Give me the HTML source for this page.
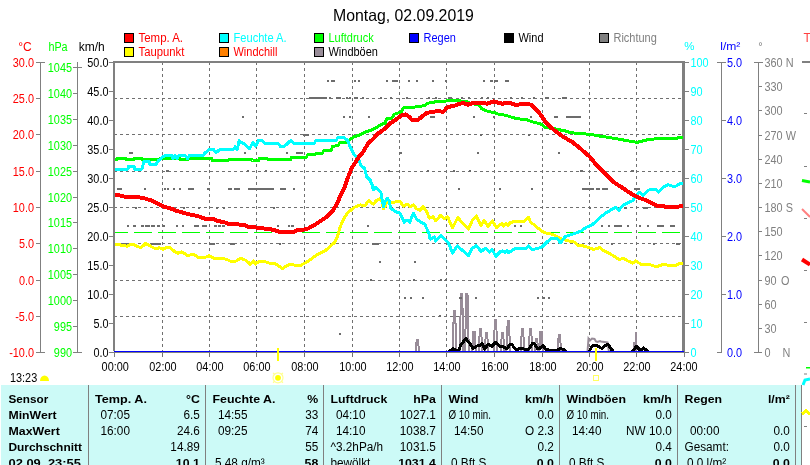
<!DOCTYPE html>
<html><head><meta charset="utf-8"><title>Wetter 02.09.2019</title>
<style>
html,body{margin:0;padding:0;background:#fff;width:810px;height:465px;overflow:hidden}
svg{display:block;font-family:"Liberation Sans",Arial,sans-serif}
</style></head><body>
<svg width="810" height="465" viewBox="0 0 810 465">
<defs>
<clipPath id="plot"><rect x="115" y="63" width="568" height="289"/></clipPath>
<clipPath id="plot2"><rect x="115" y="63" width="568" height="288"/></clipPath>
</defs>
<rect width="810" height="465" fill="#fff"/>
<text x="403.4" y="21" fill="#000" font-size="16.5" text-anchor="middle" textLength="140.91" lengthAdjust="spacingAndGlyphs">Montag, 02.09.2019</text>
<rect x="124" y="33" width="10" height="10" fill="#000"/>
<rect x="125" y="34" width="8" height="8" fill="#ff0000"/>
<text x="138.5" y="42" fill="#ff0000" font-size="12" textLength="44.54" lengthAdjust="spacingAndGlyphs">Temp. A.</text>
<rect x="124" y="47" width="10" height="10" fill="#000"/>
<rect x="125" y="48" width="8" height="8" fill="#ffff00"/>
<text x="138.5" y="56" fill="#ff0000" font-size="12" textLength="45.78" lengthAdjust="spacingAndGlyphs">Taupunkt</text>
<rect x="219" y="33" width="10" height="10" fill="#000"/>
<rect x="220" y="34" width="8" height="8" fill="#00ffff"/>
<text x="233.5" y="42" fill="#00ffff" font-size="12" textLength="53.1" lengthAdjust="spacingAndGlyphs">Feuchte A.</text>
<rect x="219" y="47" width="10" height="10" fill="#000"/>
<rect x="220" y="48" width="8" height="8" fill="#ff8000"/>
<text x="233.5" y="56" fill="#ff0000" font-size="12" textLength="43.93" lengthAdjust="spacingAndGlyphs">Windchill</text>
<rect x="314" y="33" width="10" height="10" fill="#000"/>
<rect x="315" y="34" width="8" height="8" fill="#00ff00"/>
<text x="328.5" y="42" fill="#00ff00" font-size="12" textLength="45.16" lengthAdjust="spacingAndGlyphs">Luftdruck</text>
<rect x="314" y="47" width="10" height="10" fill="#000"/>
<rect x="315" y="48" width="8" height="8" fill="#988c98"/>
<text x="328.5" y="56" fill="#000000" font-size="12" textLength="49.44" lengthAdjust="spacingAndGlyphs">Windböen</text>
<rect x="409" y="33" width="10" height="10" fill="#000"/>
<rect x="410" y="34" width="8" height="8" fill="#0000ff"/>
<text x="423.5" y="42" fill="#0000ff" font-size="12" textLength="32.36" lengthAdjust="spacingAndGlyphs">Regen</text>
<rect x="504" y="33" width="10" height="10" fill="#000"/>
<rect x="505" y="34" width="8" height="8" fill="#000000"/>
<text x="518.5" y="42" fill="#000000" font-size="12" textLength="25.02" lengthAdjust="spacingAndGlyphs">Wind</text>
<rect x="599" y="33" width="10" height="10" fill="#000"/>
<rect x="600" y="34" width="8" height="8" fill="#808080"/>
<text x="613.5" y="42" fill="#808080" font-size="12" textLength="43.34" lengthAdjust="spacingAndGlyphs">Richtung</text>
<rect x="40" y="62" width="1" height="291" fill="#808080"/>
<text x="25" y="51" fill="#ff0000" font-size="12" text-anchor="middle">°C</text>
<rect x="36" y="62" width="4" height="1" fill="#808080"/>
<text x="34" y="66.5" fill="#ff0000" font-size="12.5" text-anchor="end" textLength="21.17" lengthAdjust="spacingAndGlyphs">30.0</text>
<rect x="36" y="98" width="4" height="1" fill="#808080"/>
<text x="34" y="102.5" fill="#ff0000" font-size="12.5" text-anchor="end" textLength="21.17" lengthAdjust="spacingAndGlyphs">25.0</text>
<rect x="36" y="134" width="4" height="1" fill="#808080"/>
<text x="34" y="138.5" fill="#ff0000" font-size="12.5" text-anchor="end" textLength="21.17" lengthAdjust="spacingAndGlyphs">20.0</text>
<rect x="36" y="171" width="4" height="1" fill="#808080"/>
<text x="34" y="175.5" fill="#ff0000" font-size="12.5" text-anchor="end" textLength="21.17" lengthAdjust="spacingAndGlyphs">15.0</text>
<rect x="36" y="207" width="4" height="1" fill="#808080"/>
<text x="34" y="211.5" fill="#ff0000" font-size="12.5" text-anchor="end" textLength="21.17" lengthAdjust="spacingAndGlyphs">10.0</text>
<rect x="36" y="243" width="4" height="1" fill="#808080"/>
<text x="34" y="247.5" fill="#ff0000" font-size="12.5" text-anchor="end" textLength="15.12" lengthAdjust="spacingAndGlyphs">5.0</text>
<rect x="36" y="280" width="4" height="1" fill="#808080"/>
<text x="34" y="284.5" fill="#ff0000" font-size="12.5" text-anchor="end" textLength="15.12" lengthAdjust="spacingAndGlyphs">0.0</text>
<rect x="36" y="316" width="4" height="1" fill="#808080"/>
<text x="34" y="320.5" fill="#ff0000" font-size="12.5" text-anchor="end" textLength="18.74" lengthAdjust="spacingAndGlyphs">-5.0</text>
<rect x="36" y="352" width="4" height="1" fill="#808080"/>
<text x="34" y="356.5" fill="#ff0000" font-size="12.5" text-anchor="end" textLength="24.79" lengthAdjust="spacingAndGlyphs">-10.0</text>
<rect x="36" y="62" width="9" height="1" fill="#808080"/>
<rect x="36" y="352" width="9" height="1" fill="#808080"/>
<rect x="77" y="62" width="1" height="291" fill="#808080"/>
<text x="58" y="51" fill="#00ff00" font-size="12" text-anchor="middle" textLength="19.22" lengthAdjust="spacingAndGlyphs">hPa</text>
<rect x="73" y="67" width="4" height="1" fill="#808080"/>
<text x="72" y="71.5" fill="#00ff00" font-size="12.5" text-anchor="end" textLength="24.19" lengthAdjust="spacingAndGlyphs">1045</text>
<rect x="73" y="93" width="4" height="1" fill="#808080"/>
<text x="72" y="97.5" fill="#00ff00" font-size="12.5" text-anchor="end" textLength="24.19" lengthAdjust="spacingAndGlyphs">1040</text>
<rect x="73" y="119" width="4" height="1" fill="#808080"/>
<text x="72" y="123.5" fill="#00ff00" font-size="12.5" text-anchor="end" textLength="24.19" lengthAdjust="spacingAndGlyphs">1035</text>
<rect x="73" y="145" width="4" height="1" fill="#808080"/>
<text x="72" y="149.5" fill="#00ff00" font-size="12.5" text-anchor="end" textLength="24.19" lengthAdjust="spacingAndGlyphs">1030</text>
<rect x="73" y="171" width="4" height="1" fill="#808080"/>
<text x="72" y="175.5" fill="#00ff00" font-size="12.5" text-anchor="end" textLength="24.19" lengthAdjust="spacingAndGlyphs">1025</text>
<rect x="73" y="197" width="4" height="1" fill="#808080"/>
<text x="72" y="201.5" fill="#00ff00" font-size="12.5" text-anchor="end" textLength="24.19" lengthAdjust="spacingAndGlyphs">1020</text>
<rect x="73" y="222" width="4" height="1" fill="#808080"/>
<text x="72" y="226.5" fill="#00ff00" font-size="12.5" text-anchor="end" textLength="24.19" lengthAdjust="spacingAndGlyphs">1015</text>
<rect x="73" y="248" width="4" height="1" fill="#808080"/>
<text x="72" y="252.5" fill="#00ff00" font-size="12.5" text-anchor="end" textLength="24.19" lengthAdjust="spacingAndGlyphs">1010</text>
<rect x="73" y="274" width="4" height="1" fill="#808080"/>
<text x="72" y="278.5" fill="#00ff00" font-size="12.5" text-anchor="end" textLength="24.19" lengthAdjust="spacingAndGlyphs">1005</text>
<rect x="73" y="300" width="4" height="1" fill="#808080"/>
<text x="72" y="304.5" fill="#00ff00" font-size="12.5" text-anchor="end" textLength="24.19" lengthAdjust="spacingAndGlyphs">1000</text>
<rect x="73" y="326" width="4" height="1" fill="#808080"/>
<text x="72" y="330.5" fill="#00ff00" font-size="12.5" text-anchor="end" textLength="18.14" lengthAdjust="spacingAndGlyphs">995</text>
<rect x="73" y="352" width="4" height="1" fill="#808080"/>
<text x="72" y="356.5" fill="#00ff00" font-size="12.5" text-anchor="end" textLength="18.14" lengthAdjust="spacingAndGlyphs">990</text>
<rect x="73" y="67" width="9" height="1" fill="#808080"/>
<rect x="73" y="352" width="9" height="1" fill="#808080"/>
<text x="91.7" y="51" fill="#000" font-size="12" text-anchor="middle">km/h</text>
<rect x="109" y="62" width="4" height="1" fill="#808080"/>
<text x="108.5" y="66.5" fill="#000" font-size="12.5" text-anchor="end" textLength="21.17" lengthAdjust="spacingAndGlyphs">50.0</text>
<rect x="109" y="91" width="4" height="1" fill="#808080"/>
<text x="108.5" y="95.5" fill="#000" font-size="12.5" text-anchor="end" textLength="21.17" lengthAdjust="spacingAndGlyphs">45.0</text>
<rect x="109" y="120" width="4" height="1" fill="#808080"/>
<text x="108.5" y="124.5" fill="#000" font-size="12.5" text-anchor="end" textLength="21.17" lengthAdjust="spacingAndGlyphs">40.0</text>
<rect x="109" y="149" width="4" height="1" fill="#808080"/>
<text x="108.5" y="153.5" fill="#000" font-size="12.5" text-anchor="end" textLength="21.17" lengthAdjust="spacingAndGlyphs">35.0</text>
<rect x="109" y="178" width="4" height="1" fill="#808080"/>
<text x="108.5" y="182.5" fill="#000" font-size="12.5" text-anchor="end" textLength="21.17" lengthAdjust="spacingAndGlyphs">30.0</text>
<rect x="109" y="207" width="4" height="1" fill="#808080"/>
<text x="108.5" y="211.5" fill="#000" font-size="12.5" text-anchor="end" textLength="21.17" lengthAdjust="spacingAndGlyphs">25.0</text>
<rect x="109" y="236" width="4" height="1" fill="#808080"/>
<text x="108.5" y="240.5" fill="#000" font-size="12.5" text-anchor="end" textLength="21.17" lengthAdjust="spacingAndGlyphs">20.0</text>
<rect x="109" y="265" width="4" height="1" fill="#808080"/>
<text x="108.5" y="269.5" fill="#000" font-size="12.5" text-anchor="end" textLength="21.17" lengthAdjust="spacingAndGlyphs">15.0</text>
<rect x="109" y="294" width="4" height="1" fill="#808080"/>
<text x="108.5" y="298.5" fill="#000" font-size="12.5" text-anchor="end" textLength="21.17" lengthAdjust="spacingAndGlyphs">10.0</text>
<rect x="109" y="323" width="4" height="1" fill="#808080"/>
<text x="108.5" y="327.5" fill="#000" font-size="12.5" text-anchor="end" textLength="15.12" lengthAdjust="spacingAndGlyphs">5.0</text>
<rect x="109" y="352" width="4" height="1" fill="#808080"/>
<text x="108.5" y="356.5" fill="#000" font-size="12.5" text-anchor="end" textLength="15.12" lengthAdjust="spacingAndGlyphs">0.0</text>
<rect x="162" y="352" width="1" height="5" fill="#707070"/>
<line x1="162.5" y1="62" x2="162.5" y2="352" stroke="#707070" stroke-width="1" stroke-dasharray="3,3" shape-rendering="crispEdges"/>
<rect x="209" y="352" width="1" height="5" fill="#707070"/>
<line x1="209.5" y1="62" x2="209.5" y2="352" stroke="#707070" stroke-width="1" stroke-dasharray="3,3" shape-rendering="crispEdges"/>
<rect x="256" y="352" width="1" height="5" fill="#707070"/>
<line x1="256.5" y1="62" x2="256.5" y2="352" stroke="#707070" stroke-width="1" stroke-dasharray="3,3" shape-rendering="crispEdges"/>
<rect x="304" y="352" width="1" height="5" fill="#707070"/>
<line x1="304.5" y1="62" x2="304.5" y2="352" stroke="#707070" stroke-width="1" stroke-dasharray="3,3" shape-rendering="crispEdges"/>
<rect x="352" y="352" width="1" height="5" fill="#707070"/>
<line x1="352.5" y1="62" x2="352.5" y2="352" stroke="#707070" stroke-width="1" stroke-dasharray="3,3" shape-rendering="crispEdges"/>
<rect x="399" y="352" width="1" height="5" fill="#707070"/>
<line x1="399.5" y1="62" x2="399.5" y2="352" stroke="#707070" stroke-width="1" stroke-dasharray="3,3" shape-rendering="crispEdges"/>
<rect x="446" y="352" width="1" height="5" fill="#707070"/>
<line x1="446.5" y1="62" x2="446.5" y2="352" stroke="#707070" stroke-width="1" stroke-dasharray="3,3" shape-rendering="crispEdges"/>
<rect x="494" y="352" width="1" height="5" fill="#707070"/>
<line x1="494.5" y1="62" x2="494.5" y2="352" stroke="#707070" stroke-width="1" stroke-dasharray="3,3" shape-rendering="crispEdges"/>
<rect x="542" y="352" width="1" height="5" fill="#707070"/>
<line x1="542.5" y1="62" x2="542.5" y2="352" stroke="#707070" stroke-width="1" stroke-dasharray="3,3" shape-rendering="crispEdges"/>
<rect x="589" y="352" width="1" height="5" fill="#707070"/>
<line x1="589.5" y1="62" x2="589.5" y2="352" stroke="#707070" stroke-width="1" stroke-dasharray="3,3" shape-rendering="crispEdges"/>
<rect x="636" y="352" width="1" height="5" fill="#707070"/>
<line x1="636.5" y1="62" x2="636.5" y2="352" stroke="#707070" stroke-width="1" stroke-dasharray="3,3" shape-rendering="crispEdges"/>
<line x1="114" y1="98.5" x2="682" y2="98.5" stroke="#707070" stroke-width="1" stroke-dasharray="3,3" shape-rendering="crispEdges"/>
<line x1="114" y1="134.5" x2="682" y2="134.5" stroke="#707070" stroke-width="1" stroke-dasharray="3,3" shape-rendering="crispEdges"/>
<line x1="114" y1="171.5" x2="682" y2="171.5" stroke="#707070" stroke-width="1" stroke-dasharray="3,3" shape-rendering="crispEdges"/>
<line x1="114" y1="207.5" x2="682" y2="207.5" stroke="#707070" stroke-width="1" stroke-dasharray="3,3" shape-rendering="crispEdges"/>
<line x1="114" y1="243.5" x2="682" y2="243.5" stroke="#707070" stroke-width="1" stroke-dasharray="3,3" shape-rendering="crispEdges"/>
<line x1="114" y1="280.5" x2="682" y2="280.5" stroke="#707070" stroke-width="1" stroke-dasharray="3,3" shape-rendering="crispEdges"/>
<line x1="114" y1="316.5" x2="682" y2="316.5" stroke="#707070" stroke-width="1" stroke-dasharray="3,3" shape-rendering="crispEdges"/>
<line x1="110" y1="232.5" x2="682" y2="232.5" stroke="#00ff00" stroke-width="1" stroke-dasharray="18,6" shape-rendering="crispEdges" clip-path="url(#plot)"/>
<rect x="113" y="61" width="572" height="2" fill="#808080"/>
<rect x="113" y="62" width="2" height="289" fill="#808080"/>
<rect x="114" y="351" width="1" height="6" fill="#808080"/>
<rect x="682" y="61" width="3" height="291" fill="#808080"/>
<rect x="113" y="352" width="572" height="1" fill="#808080"/>
<rect x="684" y="352" width="1" height="5" fill="#808080"/>
<rect x="685" y="352" width="4" height="1" fill="#808080"/>
<rect x="110" y="62" width="3" height="1" fill="#808080"/>
<rect x="685" y="62" width="4" height="1" fill="#808080"/>
<rect x="685" y="91" width="4" height="1" fill="#808080"/>
<rect x="685" y="120" width="4" height="1" fill="#808080"/>
<rect x="685" y="149" width="4" height="1" fill="#808080"/>
<rect x="685" y="178" width="4" height="1" fill="#808080"/>
<rect x="685" y="207" width="4" height="1" fill="#808080"/>
<rect x="685" y="236" width="4" height="1" fill="#808080"/>
<rect x="685" y="265" width="4" height="1" fill="#808080"/>
<rect x="685" y="294" width="4" height="1" fill="#808080"/>
<rect x="685" y="323" width="4" height="1" fill="#808080"/>
<rect x="685" y="352" width="4" height="1" fill="#808080"/>
<text x="689.3" y="50" fill="#00ffff" font-size="11.5" text-anchor="middle">%</text>
<text x="690.5" y="66.5" fill="#00ffff" font-size="12.5" textLength="18.14" lengthAdjust="spacingAndGlyphs">100</text>
<text x="690.5" y="95.5" fill="#00ffff" font-size="12.5" textLength="12.1" lengthAdjust="spacingAndGlyphs">90</text>
<text x="690.5" y="124.5" fill="#00ffff" font-size="12.5" textLength="12.1" lengthAdjust="spacingAndGlyphs">80</text>
<text x="690.5" y="153.5" fill="#00ffff" font-size="12.5" textLength="12.1" lengthAdjust="spacingAndGlyphs">70</text>
<text x="690.5" y="182.5" fill="#00ffff" font-size="12.5" textLength="12.1" lengthAdjust="spacingAndGlyphs">60</text>
<text x="690.5" y="211.5" fill="#00ffff" font-size="12.5" textLength="12.1" lengthAdjust="spacingAndGlyphs">50</text>
<text x="690.5" y="240.5" fill="#00ffff" font-size="12.5" textLength="12.1" lengthAdjust="spacingAndGlyphs">40</text>
<text x="690.5" y="269.5" fill="#00ffff" font-size="12.5" textLength="12.1" lengthAdjust="spacingAndGlyphs">30</text>
<text x="690.5" y="298.5" fill="#00ffff" font-size="12.5" textLength="12.1" lengthAdjust="spacingAndGlyphs">20</text>
<text x="690.5" y="327.5" fill="#00ffff" font-size="12.5" textLength="12.1" lengthAdjust="spacingAndGlyphs">10</text>
<text x="690.5" y="356.5" fill="#00ffff" font-size="12.5" textLength="6.05" lengthAdjust="spacingAndGlyphs">0</text>
<rect x="721" y="62" width="1" height="291" fill="#808080"/>
<rect x="717" y="62" width="9" height="1" fill="#808080"/>
<text x="730.3" y="50" fill="#0000ff" font-size="11" text-anchor="middle" textLength="20.16" lengthAdjust="spacingAndGlyphs">l/m²</text>
<text x="727" y="66.5" fill="#0000ff" font-size="12.5" textLength="15.12" lengthAdjust="spacingAndGlyphs">5.0</text>
<rect x="722" y="120" width="4" height="1" fill="#808080"/>
<text x="727" y="124.5" fill="#0000ff" font-size="12.5" textLength="15.12" lengthAdjust="spacingAndGlyphs">4.0</text>
<rect x="722" y="178" width="4" height="1" fill="#808080"/>
<text x="727" y="182.5" fill="#0000ff" font-size="12.5" textLength="15.12" lengthAdjust="spacingAndGlyphs">3.0</text>
<rect x="722" y="236" width="4" height="1" fill="#808080"/>
<text x="727" y="240.5" fill="#0000ff" font-size="12.5" textLength="15.12" lengthAdjust="spacingAndGlyphs">2.0</text>
<rect x="722" y="294" width="4" height="1" fill="#808080"/>
<text x="727" y="298.5" fill="#0000ff" font-size="12.5" textLength="15.12" lengthAdjust="spacingAndGlyphs">1.0</text>
<rect x="717" y="352" width="4" height="1" fill="#808080"/>
<text x="727" y="356.5" fill="#0000ff" font-size="12.5" textLength="15.12" lengthAdjust="spacingAndGlyphs">0.0</text>
<rect x="758" y="62" width="1" height="291" fill="#808080"/>
<rect x="754" y="62" width="9" height="1" fill="#808080"/>
<text x="760.5" y="50" fill="#808080" font-size="11" text-anchor="middle">°</text>
<rect x="758" y="62" width="4" height="1" fill="#808080"/>
<text x="764.5" y="66.5" fill="#808080" font-size="12.5" textLength="29.02" lengthAdjust="spacingAndGlyphs" xml:space="preserve">360 N</text>
<rect x="758" y="86" width="4" height="1" fill="#808080"/>
<text x="764.5" y="90.5" fill="#808080" font-size="12.5" textLength="18.14" lengthAdjust="spacingAndGlyphs" xml:space="preserve">330</text>
<rect x="758" y="110" width="4" height="1" fill="#808080"/>
<text x="764.5" y="114.5" fill="#808080" font-size="12.5" textLength="18.14" lengthAdjust="spacingAndGlyphs" xml:space="preserve">300</text>
<rect x="758" y="135" width="4" height="1" fill="#808080"/>
<text x="764.5" y="139.5" fill="#808080" font-size="12.5" textLength="31.43" lengthAdjust="spacingAndGlyphs" xml:space="preserve">270 W</text>
<rect x="758" y="159" width="4" height="1" fill="#808080"/>
<text x="764.5" y="163.5" fill="#808080" font-size="12.5" textLength="18.14" lengthAdjust="spacingAndGlyphs" xml:space="preserve">240</text>
<rect x="758" y="183" width="4" height="1" fill="#808080"/>
<text x="764.5" y="187.5" fill="#808080" font-size="12.5" textLength="18.14" lengthAdjust="spacingAndGlyphs" xml:space="preserve">210</text>
<rect x="758" y="207" width="4" height="1" fill="#808080"/>
<text x="764.5" y="211.5" fill="#808080" font-size="12.5" textLength="28.42" lengthAdjust="spacingAndGlyphs" xml:space="preserve">180 S</text>
<rect x="758" y="231" width="4" height="1" fill="#808080"/>
<text x="764.5" y="235.5" fill="#808080" font-size="12.5" textLength="18.14" lengthAdjust="spacingAndGlyphs" xml:space="preserve">150</text>
<rect x="758" y="255" width="4" height="1" fill="#808080"/>
<text x="764.5" y="259.5" fill="#808080" font-size="12.5" textLength="18.14" lengthAdjust="spacingAndGlyphs" xml:space="preserve">120</text>
<rect x="758" y="280" width="4" height="1" fill="#808080"/>
<text x="764.5" y="284.5" fill="#808080" font-size="12.5" textLength="12.1" lengthAdjust="spacingAndGlyphs" xml:space="preserve">90</text>
<rect x="758" y="304" width="4" height="1" fill="#808080"/>
<text x="764.5" y="308.5" fill="#808080" font-size="12.5" textLength="12.1" lengthAdjust="spacingAndGlyphs" xml:space="preserve">60</text>
<rect x="758" y="328" width="4" height="1" fill="#808080"/>
<text x="764.5" y="332.5" fill="#808080" font-size="12.5" textLength="12.1" lengthAdjust="spacingAndGlyphs" xml:space="preserve">30</text>
<rect x="758" y="352" width="4" height="1" fill="#808080"/>
<text x="764.5" y="356.5" fill="#808080" font-size="12.5" textLength="6.05" lengthAdjust="spacingAndGlyphs" xml:space="preserve">0</text>
<rect x="754" y="352" width="4" height="1" fill="#808080"/>
<text x="781" y="284.5" fill="#808080" font-size="12.5" textLength="8.46" lengthAdjust="spacingAndGlyphs">O</text>
<text x="782.5" y="356.5" fill="#808080" font-size="12.5" textLength="7.85" lengthAdjust="spacingAndGlyphs">N</text>
<text x="115.2" y="371" fill="#000" font-size="12.5" text-anchor="middle" textLength="27.21" lengthAdjust="spacingAndGlyphs">00:00</text>
<text x="162.9" y="371" fill="#000" font-size="12.5" text-anchor="middle" textLength="27.21" lengthAdjust="spacingAndGlyphs">02:00</text>
<text x="209.9" y="371" fill="#000" font-size="12.5" text-anchor="middle" textLength="27.21" lengthAdjust="spacingAndGlyphs">04:00</text>
<text x="256.9" y="371" fill="#000" font-size="12.5" text-anchor="middle" textLength="27.21" lengthAdjust="spacingAndGlyphs">06:00</text>
<text x="304.9" y="371" fill="#000" font-size="12.5" text-anchor="middle" textLength="27.21" lengthAdjust="spacingAndGlyphs">08:00</text>
<text x="352.9" y="371" fill="#000" font-size="12.5" text-anchor="middle" textLength="27.21" lengthAdjust="spacingAndGlyphs">10:00</text>
<text x="399.9" y="371" fill="#000" font-size="12.5" text-anchor="middle" textLength="27.21" lengthAdjust="spacingAndGlyphs">12:00</text>
<text x="446.9" y="371" fill="#000" font-size="12.5" text-anchor="middle" textLength="27.21" lengthAdjust="spacingAndGlyphs">14:00</text>
<text x="494.9" y="371" fill="#000" font-size="12.5" text-anchor="middle" textLength="27.21" lengthAdjust="spacingAndGlyphs">16:00</text>
<text x="542.9" y="371" fill="#000" font-size="12.5" text-anchor="middle" textLength="27.21" lengthAdjust="spacingAndGlyphs">18:00</text>
<text x="589.9" y="371" fill="#000" font-size="12.5" text-anchor="middle" textLength="27.21" lengthAdjust="spacingAndGlyphs">20:00</text>
<text x="636.9" y="371" fill="#000" font-size="12.5" text-anchor="middle" textLength="27.21" lengthAdjust="spacingAndGlyphs">22:00</text>
<text x="683.9" y="371" fill="#000" font-size="12.5" text-anchor="middle" textLength="27.21" lengthAdjust="spacingAndGlyphs">24:00</text>
<text x="10" y="382" fill="#000" font-size="12.5" textLength="27.21" lengthAdjust="spacingAndGlyphs">13:23</text>
<g clip-path="url(#plot)">
<rect x="633" y="342" width="2" height="10" fill="#988c98"/>
<rect x="635" y="332" width="2" height="20" fill="#988c98"/>
<polyline points="415.4,352.0 416.7,340.0 417.9,340.0 419.2,352.0" fill="none" stroke="#988c98" stroke-width="2" stroke-linejoin="miter" shape-rendering="crispEdges"/>
<polyline points="452.6,352.0 453.9,310.5 455.1,310.5 456.4,352.0" fill="none" stroke="#988c98" stroke-width="2" stroke-linejoin="miter" shape-rendering="crispEdges"/>
<polyline points="459.7,352.0 461.0,294.3 462.2,294.3 463.5,352.0" fill="none" stroke="#988c98" stroke-width="2" stroke-linejoin="miter" shape-rendering="crispEdges"/>
<polyline points="465.0,352.0 466.3,294.3 467.5,294.3 468.8,352.0" fill="none" stroke="#988c98" stroke-width="2" stroke-linejoin="miter" shape-rendering="crispEdges"/>
<polyline points="472.1,352.0 473.4,332.3 474.6,332.3 475.9,352.0" fill="none" stroke="#988c98" stroke-width="2" stroke-linejoin="miter" shape-rendering="crispEdges"/>
<polyline points="478.6,352.0 479.9,329.3 481.1,329.3 482.4,352.0" fill="none" stroke="#988c98" stroke-width="2" stroke-linejoin="miter" shape-rendering="crispEdges"/>
<polyline points="484.6,352.0 485.9,333.4 487.1,333.4 488.4,352.0" fill="none" stroke="#988c98" stroke-width="2" stroke-linejoin="miter" shape-rendering="crispEdges"/>
<polyline points="493.6,352.0 494.9,320.3 496.1,320.3 497.4,352.0" fill="none" stroke="#988c98" stroke-width="2" stroke-linejoin="miter" shape-rendering="crispEdges"/>
<polyline points="500.6,352.0 501.9,333.4 503.1,333.4 504.4,352.0" fill="none" stroke="#988c98" stroke-width="2" stroke-linejoin="miter" shape-rendering="crispEdges"/>
<polyline points="506.4,352.0 507.7,321.4 508.9,321.4 510.2,352.0" fill="none" stroke="#988c98" stroke-width="2" stroke-linejoin="miter" shape-rendering="crispEdges"/>
<polyline points="520.6,352.0 521.9,329.4 523.1,329.4 524.4,352.0" fill="none" stroke="#988c98" stroke-width="2" stroke-linejoin="miter" shape-rendering="crispEdges"/>
<polyline points="528.6,352.0 529.9,328.7 531.1,328.7 532.4,352.0" fill="none" stroke="#988c98" stroke-width="2" stroke-linejoin="miter" shape-rendering="crispEdges"/>
<polyline points="534.6,352.0 535.9,338.5 537.1,338.5 538.4,352.0" fill="none" stroke="#988c98" stroke-width="2" stroke-linejoin="miter" shape-rendering="crispEdges"/>
<polyline points="539.1,352.0 540.4,332.0 541.6,332.0 542.9,352.0" fill="none" stroke="#988c98" stroke-width="2" stroke-linejoin="miter" shape-rendering="crispEdges"/>
<polyline points="557.4,352.0 558.7,335.4 559.9,335.4 561.2,352.0" fill="none" stroke="#988c98" stroke-width="2" stroke-linejoin="miter" shape-rendering="crispEdges"/>
<rect x="327" y="80" width="2" height="2" fill="#6c6c6c"/>
<rect x="331" y="80" width="4" height="2" fill="#6c6c6c"/>
<rect x="354" y="80" width="2" height="2" fill="#6c6c6c"/>
<rect x="358" y="80" width="2" height="2" fill="#6c6c6c"/>
<rect x="386" y="80" width="2" height="2" fill="#6c6c6c"/>
<rect x="392" y="80" width="4" height="2" fill="#6c6c6c"/>
<rect x="395" y="80" width="3" height="2" fill="#6c6c6c"/>
<rect x="408" y="80" width="2" height="2" fill="#6c6c6c"/>
<rect x="416" y="80" width="2" height="2" fill="#6c6c6c"/>
<rect x="432" y="80" width="2" height="2" fill="#6c6c6c"/>
<rect x="445" y="80" width="2" height="2" fill="#6c6c6c"/>
<rect x="483" y="80" width="2" height="2" fill="#6c6c6c"/>
<rect x="490" y="80" width="3" height="2" fill="#6c6c6c"/>
<rect x="494" y="80" width="4" height="2" fill="#6c6c6c"/>
<rect x="505" y="80" width="4" height="2" fill="#6c6c6c"/>
<rect x="309" y="97" width="18" height="2" fill="#6c6c6c"/>
<rect x="329" y="97" width="2" height="2" fill="#6c6c6c"/>
<rect x="336" y="97" width="5" height="2" fill="#6c6c6c"/>
<rect x="346" y="97" width="2" height="2" fill="#6c6c6c"/>
<rect x="349" y="97" width="2" height="2" fill="#6c6c6c"/>
<rect x="354" y="97" width="4" height="2" fill="#6c6c6c"/>
<rect x="362" y="97" width="2" height="2" fill="#6c6c6c"/>
<rect x="380" y="97" width="2" height="2" fill="#6c6c6c"/>
<rect x="390" y="97" width="2" height="2" fill="#6c6c6c"/>
<rect x="406" y="97" width="2" height="2" fill="#6c6c6c"/>
<rect x="428" y="97" width="2" height="2" fill="#6c6c6c"/>
<rect x="435" y="97" width="2" height="2" fill="#6c6c6c"/>
<rect x="448" y="97" width="4" height="2" fill="#6c6c6c"/>
<rect x="461" y="97" width="2" height="2" fill="#6c6c6c"/>
<rect x="468" y="97" width="2" height="2" fill="#6c6c6c"/>
<rect x="481" y="97" width="2" height="2" fill="#6c6c6c"/>
<rect x="487" y="97" width="2" height="2" fill="#6c6c6c"/>
<rect x="510" y="97" width="2" height="2" fill="#6c6c6c"/>
<rect x="521" y="97" width="2" height="2" fill="#6c6c6c"/>
<rect x="533" y="97" width="2" height="2" fill="#6c6c6c"/>
<rect x="545" y="97" width="4" height="2" fill="#6c6c6c"/>
<rect x="562" y="97" width="5" height="2" fill="#6c6c6c"/>
<rect x="242" y="116" width="2" height="2" fill="#6c6c6c"/>
<rect x="343" y="116" width="2" height="2" fill="#6c6c6c"/>
<rect x="349" y="116" width="2" height="2" fill="#6c6c6c"/>
<rect x="368" y="116" width="2" height="2" fill="#6c6c6c"/>
<rect x="418" y="116" width="2" height="2" fill="#6c6c6c"/>
<rect x="430" y="116" width="5" height="2" fill="#6c6c6c"/>
<rect x="473" y="116" width="2" height="2" fill="#6c6c6c"/>
<rect x="493" y="116" width="2" height="2" fill="#6c6c6c"/>
<rect x="530" y="116" width="2" height="2" fill="#6c6c6c"/>
<rect x="554" y="116" width="4" height="2" fill="#6c6c6c"/>
<rect x="566" y="116" width="15" height="2" fill="#6c6c6c"/>
<rect x="303" y="134" width="6" height="2" fill="#6c6c6c"/>
<rect x="480" y="134" width="2" height="2" fill="#6c6c6c"/>
<rect x="528" y="134" width="2" height="2" fill="#6c6c6c"/>
<rect x="129" y="152" width="4" height="2" fill="#6c6c6c"/>
<rect x="244" y="152" width="2" height="2" fill="#6c6c6c"/>
<rect x="286" y="152" width="2" height="2" fill="#6c6c6c"/>
<rect x="296" y="152" width="7" height="2" fill="#6c6c6c"/>
<rect x="399" y="152" width="3" height="2" fill="#6c6c6c"/>
<rect x="477" y="152" width="2" height="2" fill="#6c6c6c"/>
<rect x="558" y="152" width="2" height="2" fill="#6c6c6c"/>
<rect x="166" y="170" width="3" height="2" fill="#6c6c6c"/>
<rect x="247" y="170" width="2" height="2" fill="#6c6c6c"/>
<rect x="265" y="170" width="2" height="2" fill="#6c6c6c"/>
<rect x="289" y="170" width="2" height="2" fill="#6c6c6c"/>
<rect x="388" y="170" width="2" height="2" fill="#6c6c6c"/>
<rect x="427" y="170" width="2" height="2" fill="#6c6c6c"/>
<rect x="453" y="170" width="2" height="2" fill="#6c6c6c"/>
<rect x="469" y="170" width="2" height="2" fill="#6c6c6c"/>
<rect x="580" y="170" width="3" height="2" fill="#6c6c6c"/>
<rect x="631" y="170" width="3" height="2" fill="#6c6c6c"/>
<rect x="117" y="188" width="5" height="2" fill="#6c6c6c"/>
<rect x="144" y="188" width="2" height="2" fill="#6c6c6c"/>
<rect x="164" y="188" width="2" height="2" fill="#6c6c6c"/>
<rect x="167" y="188" width="2" height="2" fill="#6c6c6c"/>
<rect x="173" y="188" width="2" height="2" fill="#6c6c6c"/>
<rect x="179" y="188" width="2" height="2" fill="#6c6c6c"/>
<rect x="188" y="188" width="6" height="2" fill="#6c6c6c"/>
<rect x="207" y="188" width="2" height="2" fill="#6c6c6c"/>
<rect x="228" y="188" width="4" height="2" fill="#6c6c6c"/>
<rect x="234" y="188" width="6" height="2" fill="#6c6c6c"/>
<rect x="248" y="188" width="7" height="2" fill="#6c6c6c"/>
<rect x="255" y="188" width="19" height="2" fill="#6c6c6c"/>
<rect x="280" y="188" width="6" height="2" fill="#6c6c6c"/>
<rect x="293" y="188" width="2" height="2" fill="#6c6c6c"/>
<rect x="458" y="188" width="2" height="2" fill="#6c6c6c"/>
<rect x="499" y="188" width="2" height="2" fill="#6c6c6c"/>
<rect x="531" y="188" width="2" height="2" fill="#6c6c6c"/>
<rect x="582" y="188" width="7" height="2" fill="#6c6c6c"/>
<rect x="590" y="188" width="4" height="2" fill="#6c6c6c"/>
<rect x="596" y="188" width="4" height="2" fill="#6c6c6c"/>
<rect x="602" y="188" width="6" height="2" fill="#6c6c6c"/>
<rect x="634" y="188" width="6" height="2" fill="#6c6c6c"/>
<rect x="650" y="188" width="7" height="2" fill="#6c6c6c"/>
<rect x="135" y="207" width="2" height="2" fill="#6c6c6c"/>
<rect x="173" y="207" width="2" height="2" fill="#6c6c6c"/>
<rect x="183" y="207" width="2" height="2" fill="#6c6c6c"/>
<rect x="198" y="207" width="2" height="2" fill="#6c6c6c"/>
<rect x="216" y="207" width="2" height="2" fill="#6c6c6c"/>
<rect x="223" y="207" width="2" height="2" fill="#6c6c6c"/>
<rect x="273" y="207" width="2" height="2" fill="#6c6c6c"/>
<rect x="421" y="207" width="2" height="2" fill="#6c6c6c"/>
<rect x="589" y="207" width="2" height="2" fill="#6c6c6c"/>
<rect x="624" y="207" width="3" height="2" fill="#6c6c6c"/>
<rect x="643" y="207" width="5" height="2" fill="#6c6c6c"/>
<rect x="127" y="225" width="2" height="2" fill="#6c6c6c"/>
<rect x="133" y="225" width="3" height="2" fill="#6c6c6c"/>
<rect x="141" y="225" width="3" height="2" fill="#6c6c6c"/>
<rect x="145" y="225" width="5" height="2" fill="#6c6c6c"/>
<rect x="151" y="225" width="4" height="2" fill="#6c6c6c"/>
<rect x="157" y="225" width="3" height="2" fill="#6c6c6c"/>
<rect x="162" y="225" width="3" height="2" fill="#6c6c6c"/>
<rect x="176" y="225" width="2" height="2" fill="#6c6c6c"/>
<rect x="182" y="225" width="2" height="2" fill="#6c6c6c"/>
<rect x="194" y="225" width="5" height="2" fill="#6c6c6c"/>
<rect x="202" y="225" width="5" height="2" fill="#6c6c6c"/>
<rect x="214" y="225" width="3" height="2" fill="#6c6c6c"/>
<rect x="218" y="225" width="3" height="2" fill="#6c6c6c"/>
<rect x="222" y="225" width="3" height="2" fill="#6c6c6c"/>
<rect x="277" y="225" width="2" height="2" fill="#6c6c6c"/>
<rect x="288" y="225" width="2" height="2" fill="#6c6c6c"/>
<rect x="291" y="225" width="3" height="2" fill="#6c6c6c"/>
<rect x="367" y="225" width="2" height="2" fill="#6c6c6c"/>
<rect x="514" y="225" width="2" height="2" fill="#6c6c6c"/>
<rect x="520" y="225" width="2" height="2" fill="#6c6c6c"/>
<rect x="601" y="225" width="2" height="2" fill="#6c6c6c"/>
<rect x="608" y="225" width="2" height="2" fill="#6c6c6c"/>
<rect x="614" y="225" width="8" height="2" fill="#6c6c6c"/>
<rect x="627" y="225" width="2" height="2" fill="#6c6c6c"/>
<rect x="639" y="225" width="2" height="2" fill="#6c6c6c"/>
<rect x="647" y="225" width="2" height="2" fill="#6c6c6c"/>
<rect x="657" y="225" width="7" height="2" fill="#6c6c6c"/>
<rect x="670" y="225" width="5" height="2" fill="#6c6c6c"/>
<rect x="122" y="243" width="6" height="2" fill="#6c6c6c"/>
<rect x="151" y="243" width="10" height="2" fill="#6c6c6c"/>
<rect x="209" y="243" width="6" height="2" fill="#6c6c6c"/>
<rect x="230" y="243" width="5" height="2" fill="#6c6c6c"/>
<rect x="279" y="243" width="2" height="2" fill="#6c6c6c"/>
<rect x="372" y="243" width="7" height="2" fill="#6c6c6c"/>
<rect x="611" y="243" width="2" height="2" fill="#6c6c6c"/>
<rect x="653" y="243" width="2" height="2" fill="#6c6c6c"/>
<rect x="676" y="243" width="4" height="2" fill="#6c6c6c"/>
<rect x="379" y="261" width="2" height="2" fill="#6c6c6c"/>
<rect x="414" y="261" width="2" height="2" fill="#6c6c6c"/>
<rect x="370" y="279" width="2" height="2" fill="#6c6c6c"/>
<rect x="413" y="279" width="2" height="2" fill="#6c6c6c"/>
<rect x="440" y="279" width="2" height="2" fill="#6c6c6c"/>
<rect x="445" y="279" width="2" height="2" fill="#6c6c6c"/>
<rect x="404" y="297" width="2" height="2" fill="#6c6c6c"/>
<rect x="410" y="297" width="2" height="2" fill="#6c6c6c"/>
<rect x="422" y="297" width="2" height="2" fill="#6c6c6c"/>
<rect x="459" y="297" width="3" height="2" fill="#6c6c6c"/>
<rect x="475" y="297" width="2" height="2" fill="#6c6c6c"/>
<rect x="537" y="297" width="2" height="2" fill="#6c6c6c"/>
<rect x="543" y="297" width="2" height="2" fill="#6c6c6c"/>
<rect x="548" y="297" width="2" height="2" fill="#6c6c6c"/>
<rect x="439" y="315" width="2" height="2" fill="#6c6c6c"/>
<rect x="339" y="333" width="2" height="2" fill="#6c6c6c"/>
<polyline points="587.5,352 588.5,338.5 590,340.5 592,338.5 594.5,339 596,341.5 597.5,342 600,341 601,341.5 607.5,342.5 609,352" fill="none" stroke="#988c98" stroke-width="2"/>
<polyline points="115.0,244.4 119.0,244.4 121.4,245.6 125.0,245.6 127.0,246.5 130.0,244.4 133.8,244.4 136.8,246.5 140.5,247.4 143.0,245.9 145.5,243.4 151.0,246.5 156.0,249.0 159.0,247.7 163.4,249.3 165.9,247.7 170.2,247.7 174.5,251.4 178.2,253.3 181.3,251.8 184.4,253.3 188.1,256.0 190.5,254.8 194.2,254.8 198.0,257.2 202.9,258.0 206.0,257.0 209.0,255.8 214.7,258.8 219.0,258.4 226.5,259.2 229.7,261.0 236.2,261.0 240.5,258.4 244.8,259.9 248.0,262.0 250.2,264.2 253.4,261.0 255.5,264.2 258.8,261.4 263.1,261.0 269.5,263.1 274.9,263.5 279.2,266.3 282.4,268.5 286.7,265.7 291.0,264.2 295.3,265.3 300.7,265.3 308.6,261.0 317.2,254.5 325.8,250.2 334.4,242.7 337.6,236.2 340.0,227.3 343.2,219.8 346.5,214.4 350.8,210.1 355.1,206.9 360.4,204.9 364.7,205.8 369.0,200.4 373.3,204.2 376.6,200.4 379.8,198.8 381.9,201.5 383.5,208.5 385.2,205.8 387.3,199.4 390.5,203.1 394.8,202.0 400.0,201.3 403.5,206.2 407.0,204.1 410.5,206.9 413.3,204.8 416.8,209.0 420.3,210.4 423.1,206.2 426.6,211.8 429.4,218.1 432.9,216.7 435.7,220.9 440.6,215.3 444.8,218.8 447.6,216.7 452.4,227.9 458.0,217.4 462.2,223.0 465.0,225.1 468.5,229.3 472.0,220.9 476.2,216.0 481.1,225.8 483.9,220.2 488.1,226.5 492.3,220.9 496.5,227.9 500.0,224.8 501.9,223.5 503.7,226.0 506.2,223.5 508.0,225.4 509.9,222.9 515.4,221.0 524.7,221.0 528.4,217.3 530.9,222.9 533.3,224.1 537.0,227.2 540.7,230.3 544.4,232.8 549.4,233.4 554.3,235.2 558.6,237.7 565.4,240.2 570.4,241.4 574.1,242.0 577.8,245.1 582.7,245.7 588.9,247.6 593.8,249.4 600.0,247.6 602.3,249.8 607.6,252.4 613.0,255.6 618.4,259.2 623.8,258.8 628.1,261.0 632.4,263.1 635.6,261.0 641.0,264.2 647.4,264.2 652.8,265.3 656.0,267.0 660.3,265.3 664.6,264.2 668.9,265.7 675.4,265.7 679.7,263.1 683.0,263.5" fill="none" stroke="#ffff00" stroke-width="3" stroke-linejoin="round" shape-rendering="crispEdges"/>
<polyline points="115.0,159.5 117.0,159.5 117.5,158.5 125.5,158.5 126.0,159.5 133.5,159.5 134.0,158.5 142.0,158.5 142.5,159.5 159.5,159.5 160.5,158.5 180.0,158.5 180.5,159.5 188.0,159.5 188.5,158.5 211.5,158.5 212.5,160.5 228.0,160.5 229.0,159.5 251.5,159.5 252.5,160.5 258.5,160.5 259.5,158.5 267.0,158.5 268.0,159.5 290.5,159.5 291.5,157.5 306.0,157.5 308.0,154.5 315.0,154.5 316.0,153.5 322.0,153.5 324.0,150.5 331.0,150.5 332.5,146.5 338.0,145.5 340.0,142.5 346.0,142.5 349.5,140.1 353.8,136.9 360.3,134.7 366.7,131.5 371.0,130.4 377.5,127.2 380.7,124.6 385.4,123.0 386.5,118.7 391.8,118.3 394.0,114.4 397.2,113.3 401.5,111.8 403.7,107.5 417.6,106.9 425.2,105.4 427.3,103.2 433.8,102.6 435.9,101.1 444.5,101.1 453.1,100.4 457.4,100.4 461.7,101.1 466.0,101.5 470.3,103.2 474.6,104.1 479.7,105.4 481.8,109.0 489.4,111.8 493.7,112.3 498.0,114.0 506.6,115.5 513.0,117.6 517.3,118.7 527.0,119.8 532.4,121.9 541.0,124.1 545.3,127.3 551.7,128.4 556.0,129.0 562.5,130.5 566.8,131.2 570.2,132.7 583.1,133.7 590.8,134.5 601.1,136.3 611.5,137.9 621.8,139.7 632.1,141.5 637.3,142.3 642.4,141.0 647.6,139.7 655.3,138.9 668.2,138.9 678.5,137.9 683.0,137.9" fill="none" stroke="#00ff00" stroke-width="3" stroke-linejoin="round" shape-rendering="crispEdges"/>
<polyline points="115.0,169.0 128.0,169.0 128.5,166.0 134.0,166.0 134.5,169.0 142.0,169.0 144.0,161.5 149.0,161.5 150.0,164.5 156.0,164.5 158.0,161.0 164.0,156.0 165.5,155.5 171.5,155.5 173.0,158.5 175.0,155.5 177.0,158.5 179.0,155.5 185.0,155.5 187.5,158.5 189.5,155.5 203.0,155.5 205.0,153.0 209.5,149.5 213.4,149.5 216.3,152.5 219.8,149.5 233.4,149.5 235.3,146.5 237.3,149.5 239.2,140.5 241.0,142.5 243.7,143.5 249.5,148.5 253.0,142.8 255.6,146.2 258.3,140.5 262.4,140.5 264.7,143.5 278.2,143.5 280.5,146.5 284.3,146.5 290.7,140.5 294.4,143.5 314.0,143.5 316.0,140.5 336.0,140.5 338.0,137.5 344.0,137.5 347.4,140.1 350.6,147.6 353.8,154.1 358.1,158.4 361.3,165.9 364.6,168.1 366.7,176.7 370.1,180.0 372.3,185.4 373.3,189.7 375.5,187.5 378.7,190.2 380.9,192.4 382.5,201.5 383.5,206.9 385.2,201.5 387.3,198.3 389.5,201.5 390.5,208.0 393.8,210.6 397.0,212.3 400.0,213.2 404.2,222.3 407.0,220.2 409.8,222.3 413.3,213.2 416.8,219.5 421.0,222.3 424.5,223.7 428.7,232.8 430.1,239.1 434.3,237.0 435.7,241.2 440.6,235.6 446.2,240.5 449.0,244.0 452.4,253.0 457.3,246.0 462.2,250.2 468.5,255.8 472.0,248.8 476.2,245.3 481.1,251.6 485.3,248.1 489.5,252.3 492.3,249.5 495.8,256.5 500.0,251.9 502.5,250.7 504.9,252.5 506.8,250.7 508.6,252.5 511.7,250.7 515.4,248.2 525.9,248.2 528.6,245.7 532.1,249.4 536.4,248.8 542.0,247.0 546.9,242.0 551.9,238.3 556.8,238.3 560.5,242.7 565.4,236.5 571.6,234.6 576.5,232.8 581.5,230.9 586.4,227.2 591.4,225.4 595.0,222.3 599.3,218.0 604.7,213.7 610.0,210.5 615.4,207.3 618.7,210.5 623.0,205.1 627.3,203.0 632.6,200.8 635.9,195.4 639.1,192.2 643.4,195.4 648.8,190.1 655.2,189.0 658.4,192.2 663.8,186.8 668.1,184.7 674.6,186.8 680.0,183.6 684.0,183.6" fill="none" stroke="#00ffff" stroke-width="3" stroke-linejoin="round" shape-rendering="crispEdges"/>
<polyline points="115.0,194.5 122.3,196.0 124.9,196.8 137.8,197.0 146.4,198.8 148.6,199.8 151.6,200.5 156.7,203.1 163.6,206.7 170.1,208.2 176.5,210.8 183.0,212.7 189.4,214.4 198.0,216.1 204.5,218.6 212.5,218.6 216.8,220.8 224.4,222.3 228.7,223.8 243.7,224.8 248.0,226.6 256.6,227.6 265.2,228.7 273.8,229.8 279.2,231.9 293.2,231.9 297.5,230.2 300.0,230.5 308.6,228.3 317.2,223.3 325.8,217.5 332.3,211.5 335.5,206.1 338.7,199.7 341.5,193.0 344.1,189.0 347.4,178.8 351.7,168.1 356.0,161.6 359.2,156.2 362.4,153.0 365.6,147.6 368.9,142.3 373.2,139.0 377.5,133.7 380.0,132.2 386.5,127.3 390.8,123.0 397.2,118.7 401.5,115.5 405.8,114.4 409.0,116.6 412.3,120.4 417.6,120.4 421.9,116.6 426.2,113.3 431.6,111.8 438.1,111.2 443.4,111.8 446.7,108.0 451.0,106.2 455.3,105.4 459.6,103.7 463.9,103.2 468.2,104.7 472.5,103.2 474.3,102.6 480.8,102.6 487.2,103.7 493.7,101.5 498.0,102.6 502.3,103.7 508.7,102.6 515.2,104.7 528.1,104.1 531.3,104.7 534.5,108.0 538.8,112.3 542.0,116.6 545.3,121.9 549.6,126.2 556.0,131.6 562.5,136.3 572.7,142.3 580.5,148.7 589.5,156.5 594.7,162.9 601.1,169.4 607.6,175.8 614.0,182.3 621.8,187.4 629.5,192.6 637.3,197.2 645.0,199.8 652.7,203.4 657.9,206.0 668.2,206.8 676.1,206.8 683.0,206.0" fill="none" stroke="#ff0000" stroke-width="4" stroke-linejoin="round" shape-rendering="crispEdges"/>
</g>
<g clip-path="url(#plot2)">
<polyline points="447.0,353.0 450.2,350.7 453.2,348.6 456.2,350.7 458.4,350.7 461.0,344.7 465.7,338.6 470.1,343.8 473.1,348.6 477.0,346.0 479.6,345.6 482.2,343.8 484.8,349.0 488.2,344.3 491.7,346.4 496.0,342.1 500.3,346.9 502.9,346.4 506.8,349.0 510.0,344.1 512.2,344.8 514.4,348.1 515.9,349.6 518.9,348.9 523.0,348.9 527.8,349.6 530.0,347.4 532.2,343.7 534.4,343.7 535.9,345.9 537.4,348.5 539.6,348.5 542.6,345.6 544.8,347.8 546.3,349.6 548.5,350.0 554.4,350.0 555.2,351.1 557.4,350.0 559.6,348.9 561.9,348.9 564.1,349.6 565.6,351.1 567.0,353.0 587.0,353.0 589.5,351.0 592.0,346.0 594.0,345.5 597.0,345.5 600.0,347.5 602.0,348.5 604.0,346.5 607.5,344.5 609.0,345.5 611.0,349.0 613.0,351.0 614.5,353.0 631.0,353.0 633.0,350.7 636.3,346.3 640.3,350.3 643.7,348.0 647.0,350.7 648.5,353.0" fill="none" stroke="#000000" stroke-width="3" stroke-linejoin="round" shape-rendering="crispEdges"/>
</g>
<rect x="114" y="351" width="570" height="1" fill="#0000ff"/>
<rect x="277" y="348" width="2" height="13" fill="#ffff00"/>
<rect x="595" y="348" width="2" height="13" fill="#ffff00"/>
<circle cx="278" cy="377.8" r="5" fill="none" stroke="#ffff90" stroke-width="1.2"/><g stroke="#ffff90" stroke-width="1.3"><line x1="281.2" y1="381.0" x2="282.9" y2="382.7"/><line x1="274.8" y1="381.0" x2="273.1" y2="382.7"/><line x1="274.8" y1="374.6" x2="273.1" y2="372.9"/><line x1="281.2" y1="374.6" x2="282.9" y2="372.9"/></g><circle cx="278" cy="377.8" r="2.9" fill="#ffff00"/>
<rect x="593.5" y="375.5" width="5" height="5" fill="none" stroke="#ffff60" stroke-width="1"/>
<path d="M40,381 A4.5,5.5 0 0 1 49,381 Z" fill="#ffff00"/>
<rect x="1" y="385" width="800" height="80" fill="#ccfaf7"/>
<rect x="88" y="385" width="1" height="80" fill="#808080"/>
<rect x="205" y="385" width="1" height="80" fill="#808080"/>
<rect x="323" y="385" width="1" height="80" fill="#808080"/>
<rect x="441" y="385" width="1" height="80" fill="#808080"/>
<rect x="559" y="385" width="1" height="80" fill="#808080"/>
<rect x="677" y="385" width="1" height="80" fill="#808080"/>
<rect x="795" y="385" width="1" height="80" fill="#808080"/>
<rect x="801" y="385" width="1" height="80" fill="#808080"/>
<text x="8.5" y="403" font-size="11.5" font-weight="bold" textLength="39.77" lengthAdjust="spacingAndGlyphs">Sensor</text>
<text x="8.5" y="419" font-size="11.5" font-weight="bold" textLength="48.08" lengthAdjust="spacingAndGlyphs">MinWert</text>
<text x="8.5" y="435" font-size="11.5" font-weight="bold" textLength="51.28" lengthAdjust="spacingAndGlyphs">MaxWert</text>
<text x="8.5" y="451" font-size="11.5" font-weight="bold" textLength="73.4" lengthAdjust="spacingAndGlyphs">Durchschnitt</text>
<text x="8.5" y="467" font-size="11.5" font-weight="bold" textLength="72.33" lengthAdjust="spacingAndGlyphs">02.09. 23:55</text>
<text x="95" y="403" font-size="11.5" font-weight="bold" textLength="51.96" lengthAdjust="spacingAndGlyphs">Temp. A.</text>
<text x="199.8" y="403" font-size="11.5" text-anchor="end" font-weight="bold" textLength="13.81" lengthAdjust="spacingAndGlyphs">°C</text>
<text x="100.5" y="419" font-size="12" textLength="29.43" lengthAdjust="spacingAndGlyphs">07:05</text>
<text x="199.8" y="419" font-size="12" text-anchor="end" textLength="16.35" lengthAdjust="spacingAndGlyphs">6.5</text>
<text x="100.5" y="435" font-size="12" textLength="29.43" lengthAdjust="spacingAndGlyphs">16:00</text>
<text x="199.8" y="435" font-size="12" text-anchor="end" textLength="22.89" lengthAdjust="spacingAndGlyphs">24.6</text>
<text x="199.8" y="451" font-size="12" text-anchor="end" textLength="29.43" lengthAdjust="spacingAndGlyphs">14.89</text>
<text x="199.8" y="467" font-size="11.5" text-anchor="end" font-weight="bold" textLength="23.95" lengthAdjust="spacingAndGlyphs">10.1</text>
<text x="212.5" y="403" font-size="11.5" font-weight="bold" textLength="62.9" lengthAdjust="spacingAndGlyphs">Feuchte A.</text>
<text x="318.3" y="403" font-size="11.5" text-anchor="end" font-weight="bold" textLength="10.94" lengthAdjust="spacingAndGlyphs">%</text>
<text x="218.0" y="419" font-size="12" textLength="29.43" lengthAdjust="spacingAndGlyphs">14:55</text>
<text x="318.3" y="419" font-size="12" text-anchor="end" textLength="13.08" lengthAdjust="spacingAndGlyphs">33</text>
<text x="218.0" y="435" font-size="12" textLength="29.43" lengthAdjust="spacingAndGlyphs">09:25</text>
<text x="318.3" y="435" font-size="12" text-anchor="end" textLength="13.08" lengthAdjust="spacingAndGlyphs">74</text>
<text x="318.3" y="451" font-size="12" text-anchor="end" textLength="13.08" lengthAdjust="spacingAndGlyphs">55</text>
<text x="215.0" y="467" font-size="12" textLength="49.68" lengthAdjust="spacingAndGlyphs">5.48 g/m³</text>
<text x="318.3" y="467" font-size="11.5" text-anchor="end" font-weight="bold" textLength="13.69" lengthAdjust="spacingAndGlyphs">58</text>
<text x="330.5" y="403" font-size="11.5" font-weight="bold" textLength="56.74" lengthAdjust="spacingAndGlyphs">Luftdruck</text>
<text x="435.8" y="403" font-size="11.5" text-anchor="end" font-weight="bold" textLength="22.57" lengthAdjust="spacingAndGlyphs">hPa</text>
<text x="336.0" y="419" font-size="12" textLength="29.43" lengthAdjust="spacingAndGlyphs">04:10</text>
<text x="435.8" y="419" font-size="12" text-anchor="end" textLength="35.97" lengthAdjust="spacingAndGlyphs">1027.1</text>
<text x="336.0" y="435" font-size="12" textLength="29.43" lengthAdjust="spacingAndGlyphs">14:10</text>
<text x="435.8" y="435" font-size="12" text-anchor="end" textLength="35.97" lengthAdjust="spacingAndGlyphs">1038.7</text>
<text x="330.5" y="451" font-size="12" textLength="52.6" lengthAdjust="spacingAndGlyphs">^3.2hPa/h</text>
<text x="435.8" y="451" font-size="12" text-anchor="end" textLength="35.97" lengthAdjust="spacingAndGlyphs">1031.5</text>
<text x="330.5" y="467" font-size="12" textLength="39.87" lengthAdjust="spacingAndGlyphs">bewölkt</text>
<text x="435.8" y="467" font-size="11.5" text-anchor="end" font-weight="bold" textLength="37.64" lengthAdjust="spacingAndGlyphs">1031.4</text>
<text x="448.5" y="403" font-size="11.5" font-weight="bold" textLength="30.07" lengthAdjust="spacingAndGlyphs">Wind</text>
<text x="553.8" y="403" font-size="11.5" text-anchor="end" font-weight="bold" textLength="28.72" lengthAdjust="spacingAndGlyphs">km/h</text>
<text x="448.5" y="419" font-size="12" textLength="42.5" lengthAdjust="spacingAndGlyphs">Ø 10 min.</text>
<text x="553.8" y="419" font-size="12" text-anchor="end" textLength="16.35" lengthAdjust="spacingAndGlyphs">0.0</text>
<text x="454.0" y="435" font-size="12" textLength="29.43" lengthAdjust="spacingAndGlyphs">14:50</text>
<text x="553.8" y="435" font-size="12" text-anchor="end" textLength="28.76" lengthAdjust="spacingAndGlyphs">O 2.3</text>
<text x="553.8" y="451" font-size="12" text-anchor="end" textLength="16.35" lengthAdjust="spacingAndGlyphs">0.2</text>
<text x="451.0" y="467" font-size="12" textLength="35.3" lengthAdjust="spacingAndGlyphs">0 Bft S</text>
<text x="553.8" y="467" font-size="11.5" text-anchor="end" font-weight="bold" textLength="17.11" lengthAdjust="spacingAndGlyphs">0.0</text>
<text x="566.5" y="403" font-size="11.5" font-weight="bold" textLength="59.46" lengthAdjust="spacingAndGlyphs">Windböen</text>
<text x="671.8" y="403" font-size="11.5" text-anchor="end" font-weight="bold" textLength="28.72" lengthAdjust="spacingAndGlyphs">km/h</text>
<text x="566.5" y="419" font-size="12" textLength="42.5" lengthAdjust="spacingAndGlyphs">Ø 10 min.</text>
<text x="671.8" y="419" font-size="12" text-anchor="end" textLength="16.35" lengthAdjust="spacingAndGlyphs">0.0</text>
<text x="572.0" y="435" font-size="12" textLength="29.43" lengthAdjust="spacingAndGlyphs">14:40</text>
<text x="671.8" y="435" font-size="12" text-anchor="end" textLength="45.75" lengthAdjust="spacingAndGlyphs">NW 10.0</text>
<text x="671.8" y="451" font-size="12" text-anchor="end" textLength="16.35" lengthAdjust="spacingAndGlyphs">0.4</text>
<text x="569.0" y="467" font-size="12" textLength="35.3" lengthAdjust="spacingAndGlyphs">0 Bft S</text>
<text x="671.8" y="467" font-size="11.5" text-anchor="end" font-weight="bold" textLength="17.11" lengthAdjust="spacingAndGlyphs">0.0</text>
<text x="684.5" y="403" font-size="11.5" font-weight="bold" textLength="37.61" lengthAdjust="spacingAndGlyphs">Regen</text>
<text x="789.8" y="403" font-size="11.5" text-anchor="end" font-weight="bold" textLength="21.88" lengthAdjust="spacingAndGlyphs">l/m²</text>
<text x="690.0" y="435" font-size="12" textLength="29.43" lengthAdjust="spacingAndGlyphs">00:00</text>
<text x="789.8" y="435" font-size="12" text-anchor="end" textLength="16.35" lengthAdjust="spacingAndGlyphs">0.0</text>
<text x="684.5" y="451" font-size="12" textLength="44.44" lengthAdjust="spacingAndGlyphs">Gesamt:</text>
<text x="789.8" y="451" font-size="12" text-anchor="end" textLength="16.35" lengthAdjust="spacingAndGlyphs">0.0</text>
<text x="687.0" y="467" font-size="12" textLength="39.21" lengthAdjust="spacingAndGlyphs">0.0 l/m²</text>
<text x="789.8" y="467" font-size="11.5" text-anchor="end" font-weight="bold" textLength="17.11" lengthAdjust="spacingAndGlyphs">0.0</text>
<text x="803.5" y="42" fill="#ff4040" font-size="12">T</text>
<rect x="802" y="61" width="8" height="2" fill="#808080"/>
<rect x="804" y="113" width="3" height="1" fill="#808080"/>
<rect x="804" y="166" width="3" height="1" fill="#808080"/>
<rect x="804" y="218" width="3" height="1" fill="#808080"/>
<rect x="804" y="270" width="3" height="1" fill="#808080"/>
<rect x="804" y="322" width="3" height="1" fill="#808080"/>
<polyline points="802,180.5 810,182" fill="none" stroke="#00ff00" stroke-width="3"/>
<polyline points="802,209 810,217" fill="none" stroke="#ff8080" stroke-width="2"/>
<polyline points="802,259.5 810,264.5" fill="none" stroke="#ff0000" stroke-width="4"/>
<rect x="806" y="367" width="4" height="1.5" fill="#00ff00"/>
<rect x="804" y="373.5" width="3" height="1" fill="#808080"/>
<polyline points="803,385 805,380 810,379" fill="none" stroke="#00ffff" stroke-width="3"/>
<polyline points="802,414 806,411 810,414" fill="none" stroke="#ffff00" stroke-width="3" shape-rendering="crispEdges"/>
<rect x="804" y="426" width="3" height="1" fill="#808080"/>
</svg>
</body></html>
